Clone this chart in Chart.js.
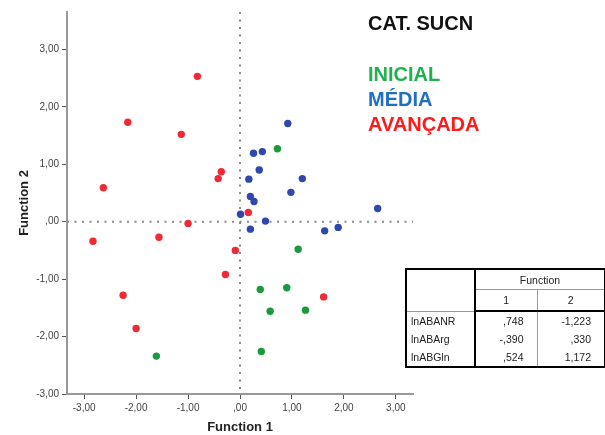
<!DOCTYPE html>
<html>
<head>
<meta charset="utf-8">
<script src="https://cdn.jsdelivr.net/npm/chart.js@4"></script>
<style>
  body { margin: 0; background: #fff; font-family: "Liberation Sans", Arial, sans-serif; }
  #wrap { position: relative; width: 605px; height: 435px; }
  #title { position: absolute; left: 368px; top: 11px; font-size: 20px; font-weight: bold; line-height: 24px; color: #111; }
  #legend { position: absolute; left: 368px; top: 62px; font-size: 20px; font-weight: bold; line-height: 25px; }
  #coef { position: absolute; left: 405px; top: 268px; border-collapse: collapse; border: 2px solid #000;
          font-size: 10.5px; color: #222; width: 199px; table-layout: fixed; }
  #coef td { padding: 0 4px; height: 19px; }
  #coef .hd td { text-align: center; border-bottom: 1px solid #999; }
  #coef .sub td { border-bottom: 2px solid #000; height: 20px; }
  #coef .lab { border-right: 2px solid #000; }
  #coef .c1 { border-right: 1px solid #999; text-align: right; padding-right: 13px; }
  #coef .c2 { text-align: right; padding-right: 13px; }
  #coef tr.body td { height: 18px; }
</style>
</head>
<body>
<div id="wrap">
  <canvas id="chart" width="605" height="435"></canvas>
  <div id="title">CAT. SUCN</div>
  <div id="legend"></div>
  <table id="coef"><colgroup><col style="width:69px"><col style="width:62px"><col style="width:68px"></colgroup><tbody id="coefBody"></tbody></table>
</div>
<script>
// discriminant scores, one pair of arrays per group
const groups = ["INICIAL", "MÉDIA", "AVANÇADA"];
const groupColors = ["#1a9a3c", "#3047ad", "#ee2a34"];
const legendColors = ["#20b050", "#1f6fc2", "#ff1a1a"];

const inicialX = [0.72, 1.12, 0.39, 0.90, 0.58, 1.26, 0.41, -1.61];
const inicialY = [1.27, -0.48, -1.18, -1.15, -1.56, -1.54, -2.26, -2.34];

const mediaX = [0.92, 0.26, 0.43, 0.37, 0.17, 1.20, 0.98, 0.20, 0.27, 0.01, 2.65, 0.49, 0.20, 1.63, 1.89];
const mediaY = [1.71, 1.19, 1.22, 0.90, 0.74, 0.75, 0.51, 0.44, 0.35, 0.13, 0.23, 0.01, -0.13, -0.16, -0.10];

const avancadaX = [-0.82, -2.16, -1.13, -0.36, -0.42, -2.63, 0.16, -0.09, 1.61, -2.83, -1.56, -1.00, -0.28, -2.25, -2.00];
const avancadaY = [2.53, 1.73, 1.52, 0.87, 0.75, 0.59, 0.16, -0.50, -1.31, -0.34, -0.27, -0.03, -0.92, -1.28, -1.86];

const tickValues = [-3, -2, -1, 0, 1, 2, 3];

// standardized canonical discriminant function coefficients
const predictors = ["lnABANR", "lnABArg", "lnABGln"];
const function1 = [0.748, -0.390, 0.524];
const function2 = [-1.223, 0.330, 1.172];

// SPSS style numbers: comma decimal, no leading zero
function spss(v, d) {
  let s = Math.abs(v).toFixed(d).replace(".", ",");
  if (s.startsWith("0")) s = s.slice(1);
  return (v < 0 ? "-" : "") + s;
}

function pts(xs, ys) { return xs.map((x, i) => ({ x: x, y: ys[i] })); }

const series = [pts(inicialX, inicialY), pts(mediaX, mediaY), pts(avancadaX, avancadaY)];

// dotted lines through the origin
const originLines = {
  id: "originLines",
  beforeDatasetsDraw(chart) {
    const { ctx, chartArea, scales } = chart;
    const x0 = scales.x.getPixelForValue(0);
    const y0 = scales.y.getPixelForValue(0);
    ctx.save();
    ctx.strokeStyle = "#8a8a8a";
    ctx.lineWidth = 2;
    ctx.setLineDash([2, 5.5]);
    ctx.beginPath();
    ctx.moveTo(x0, chartArea.top);
    ctx.lineTo(x0, chartArea.bottom);
    ctx.moveTo(chartArea.left, y0);
    ctx.lineTo(chartArea.right, y0);
    ctx.stroke();
    ctx.restore();
  }
};

const tickFont = { family: "'Liberation Sans', Arial, sans-serif", size: 10 };
const titleFont = { family: "'Liberation Sans', Arial, sans-serif", size: 13, weight: "bold" };

new Chart(document.getElementById("chart"), {
  type: "scatter",
  data: {
    datasets: groups.map((g, i) => ({
      label: g,
      data: series[i],
      backgroundColor: groupColors[i],
      borderWidth: 0,
      pointRadius: 3.7,
      pointHoverRadius: 3.7
    }))
  },
  options: {
    responsive: false,
    animation: false,
    layout: { padding: { left: 0, top: 12, right: 192, bottom: 0 } },
    plugins: { legend: { display: false }, tooltip: { enabled: false } },
    scales: {
      x: {
        min: -3.33, max: 3.33,
        afterBuildTicks: s => { s.ticks = tickValues.map(v => ({ value: v })); },
        afterFit: s => { s.height = 41; },
        grid: { drawOnChartArea: false, drawTicks: true, tickLength: 5, color: "#555", lineWidth: 1 },
        border: { color: "#999", width: 2 },
        ticks: { color: "#444", font: tickFont, padding: 3, maxRotation: 0, callback: v => spss(v, 2) },
        title: { display: true, text: "Function 1", color: "#222", font: titleFont, padding: { top: 0, bottom: 0 } }
      },
      y: {
        min: -3.0, max: 3.65,
        afterBuildTicks: s => { s.ticks = tickValues.map(v => ({ value: v })); },
        afterFit: s => { s.width = 67; },
        grid: { drawOnChartArea: false, drawTicks: true, tickLength: 5, color: "#555", lineWidth: 1 },
        border: { color: "#999", width: 2 },
        ticks: { color: "#444", font: tickFont, padding: 3, callback: v => spss(v, 2) },
        title: { display: true, text: "Function 2", color: "#222", font: titleFont, padding: { top: 17, bottom: 0 } }
      }
    }
  },
  plugins: [originLines]
});

// group legend as coloured text
document.getElementById("legend").innerHTML =
  groups.map((g, i) => '<div style="color:' + legendColors[i] + '">' + g + '</div>').join("");

// coefficient table
let rows = '<tr class="hd"><td class="lab" rowspan="2"></td><td colspan="2">Function</td></tr>' +
           '<tr class="sub"><td class="c1" style="text-align:center;padding-right:4px">1</td>' +
           '<td style="text-align:center">2</td></tr>';
predictors.forEach((p, i) => {
  rows += '<tr class="body"><td class="lab">' + p + '</td><td class="c1">' + spss(function1[i], 3) +
          '</td><td class="c2">' + spss(function2[i], 3) + '</td></tr>';
});
document.getElementById("coefBody").innerHTML = rows;
</script>
</body>
</html>
